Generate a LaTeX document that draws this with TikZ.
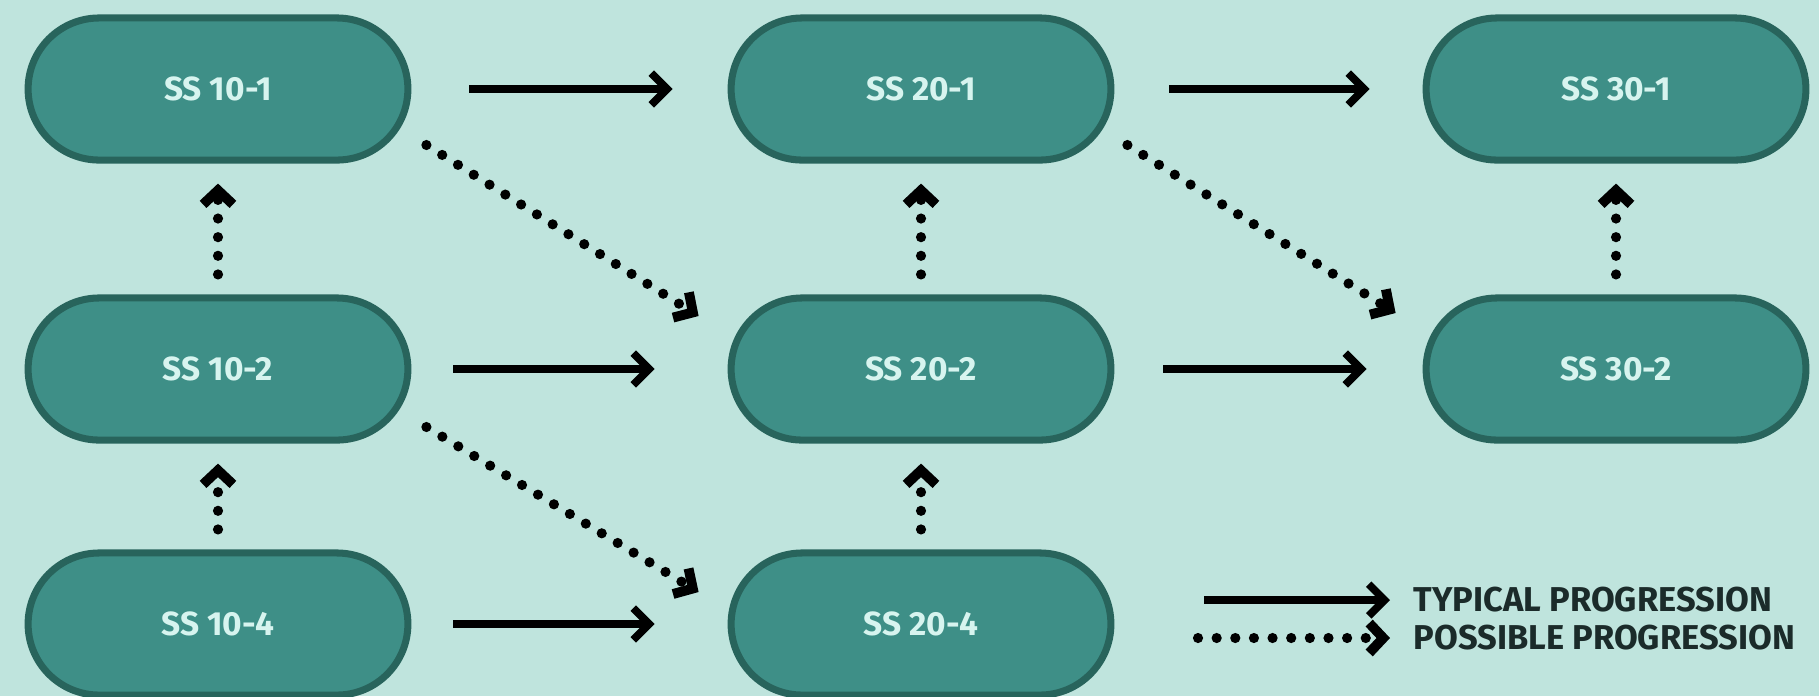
\documentclass[tikz,border=0pt]{standalone}
\usepackage{fontspec}
\setsansfont{Fira Sans}
\usetikzlibrary{shapes.misc,arrows.meta,calc}
\definecolor{mintbg}{HTML}{BFE4DD}
\definecolor{tealfill}{HTML}{3E8F87}
\definecolor{tealline}{HTML}{28645C}
\definecolor{paletext}{HTML}{D7F4EF}
\definecolor{legendtext}{HTML}{1B2B2A}
\begin{document}
\begin{tikzpicture}[x=0.01cm, y=-0.01cm,
    course/.style={rounded rectangle, draw=tealline, fill=tealfill, line width=2pt,
        minimum width=4.03cm, minimum height=1.42cm, text=paletext,
        font=\sffamily\bfseries\fontsize{9.5}{11}\selectfont},
    typical/.style={line width=2.2pt, -{Straight Barb[length=4.5pt,width=9pt]}},
    possible/.style={line width=2.9pt, line cap=round, dash pattern=on 0pt off 5.3pt,
        -{Straight Barb[length=4pt,width=8.5pt,line width=2.8pt]}},
    legend/.style={anchor=west, inner sep=0pt, text=legendtext,
        font=\sffamily\bfseries\fontsize{9.8}{11}\selectfont}]
            \fill[mintbg] (0,0) rectangle (1819,696);
            \useasboundingbox (0,0) rectangle (1819,696);
            \node[course] (s101) at (218,89) {SS 10-1};
            \node[course] (s102) at (218,369) {SS 10-2};
            \node[course] (s104) at (218,624) {SS 10-4};
            \node[course] (s201) at (921,89) {SS 20-1};
            \node[course] (s202) at (921,369) {SS 20-2};
            \node[course] (s204) at (921,624) {SS 20-4};
            \node[course] (s301) at (1616,89) {SS 30-1};
            \node[course] (s302) at (1616,369) {SS 30-2};
            \draw[typical, shorten <=0.58cm, shorten >=0.55cm] (s101.east) -- (s201.west);
            \draw[typical, shorten <=0.55cm, shorten >=0.53cm] (s201.east) -- (s301.west);
            \draw[typical, shorten <=0.42cm, shorten >=0.73cm] (s102.east) -- (s202.west);
            \draw[typical, shorten <=0.49cm, shorten >=0.56cm] (s202.east) -- (s302.west);
            \draw[typical, shorten <=0.42cm, shorten >=0.73cm] (s104.east) -- (s204.west);
            \draw[possible, shorten <=0.2cm, shorten >=0.2cm] (s102.north) -- (s101.south);
            \draw[possible, shorten <=0.2cm, shorten >=0.2cm] (s104.north) -- (s102.south);
            \draw[possible, shorten <=0.2cm, shorten >=0.2cm] (s202.north) -- (s201.south);
            \draw[possible, shorten <=0.2cm, shorten >=0.2cm] (s204.north) -- (s202.south);
            \draw[possible, shorten <=0.2cm, shorten >=0.2cm] (s302.north) -- (s301.south);
            \coordinate (d1a) at ($(s101.east)+(15,56)$);
            \coordinate (d1b) at ($(s202.west)+(-29,-53)$);
            \coordinate (d2a) at ($(s102.east)+(15,58)$);
            \coordinate (d2b) at ($(s204.west)+(-29,-32)$);
            \coordinate (d3a) at ($(s201.east)+(13,56)$);
            \coordinate (d3b) at ($(s302.west)+(-27,-56)$);
            \draw[possible] (d1a) -- (d1b);
            \draw[possible] (d2a) -- (d2b);
            \draw[possible] (d3a) -- (d3b);
            \node[legend] (ltyp) at (1413,600) {TYPICAL PROGRESSION};
            \node[legend] (lpos) at (1413,638) {POSSIBLE PROGRESSION};
            \coordinate (ltypa) at (1204,600);
            \coordinate (lposa) at (1198,638);
            \draw[typical, shorten >=0.23cm] (ltypa) -- (ltyp.west);
            \draw[possible, shorten >=0.23cm] (lposa) -- (lpos.west);
\end{tikzpicture}
\end{document}
